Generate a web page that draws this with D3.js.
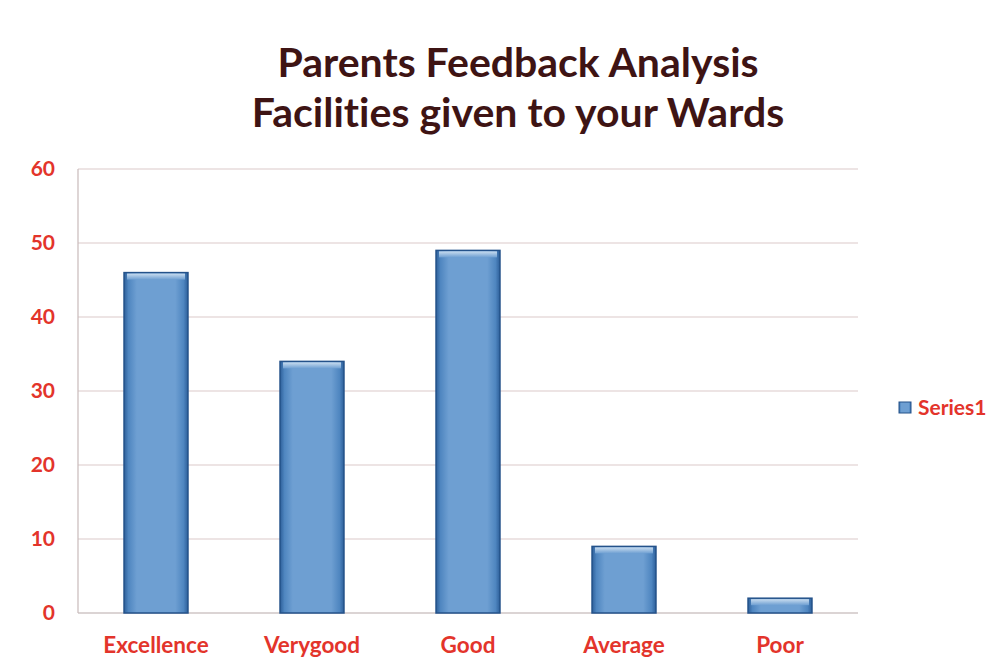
<!DOCTYPE html>
<html><head><meta charset="utf-8">
<script src="https://cdn.jsdelivr.net/npm/d3@7"></script>
<style>body{margin:0;background:#fff;}svg{display:block;}text{font-variant-ligatures:none;}</style>
</head><body>
<svg id="c" width="1003" height="670"></svg>
<script>
const categories = ["Excellence", "Verygood", "Good", "Average", "Poor"];
const series1 = [46, 34, 49, 9, 2];
const yTicks = [0, 10, 20, 30, 40, 50, 60];
const titleLines = ["Parents Feedback Analysis", "Facilities given to your Wards"];
const seriesName = "Series1";

const svg = d3.select("#c");
const m = {left: 78, right: 858, top: 169, bottom: 613};
const x = d3.scaleBand().domain(categories).range([m.left, m.right]).paddingInner(0.59).paddingOuter(0.295);
const y = d3.scaleLinear().domain([0, 60]).range([m.bottom, m.top]);
const font = "Lato, 'Open Sans', sans-serif";
const red = "#e3342b";

const defs = svg.append("defs");
const g1 = defs.append("linearGradient").attr("id", "barH").attr("x1", 0).attr("x2", 1).attr("y1", 0).attr("y2", 0);
[[0, "#2d5f9a"], [0.07, "#4f86c0"], [0.2, "#6e9fd2"], [0.8, "#6e9fd2"], [0.93, "#4f86c0"], [1, "#2d5f9a"]]
  .forEach(([o, c]) => g1.append("stop").attr("offset", o).attr("stop-color", c));
const g2 = defs.append("linearGradient").attr("id", "barTop").attr("x1", 0).attr("x2", 0).attr("y1", 0).attr("y2", 1);
[[0, "#c8dcef"], [1, "#6e9fd2"]].forEach(([o, c]) => g2.append("stop").attr("offset", o).attr("stop-color", c));

// gridlines
svg.append("g").selectAll("line").data(yTicks).join("line")
  .attr("x1", m.left).attr("x2", m.right)
  .attr("y1", d => y(d)).attr("y2", d => y(d))
  .attr("stroke", d => d === 0 ? "#b8aaaa" : "#dccaca").attr("stroke-width", 1.2);
// left axis line
svg.append("line").attr("x1", m.left).attr("x2", m.left).attr("y1", m.top).attr("y2", m.bottom)
  .attr("stroke", "#c8baba").attr("stroke-width", 1.2);

// y axis
const yAxis = d3.axisLeft(y).tickValues(yTicks).tickSize(0).tickPadding(23);
const ya = svg.append("g").attr("transform", `translate(${m.left},0)`).call(yAxis);
ya.select(".domain").remove();
ya.selectAll("text").attr("fill", red).attr("font-family", font)
  .attr("font-weight", "bold").attr("font-size", 21);

// x axis
const xAxis = d3.axisBottom(x).tickSize(0).tickPadding(24);
const xa = svg.append("g").attr("transform", `translate(0,${m.bottom})`).call(xAxis);
xa.select(".domain").remove();
xa.selectAll("text").attr("fill", red).attr("font-family", font)
  .attr("font-weight", "bold").attr("font-size", 22.5);

// bars
const bars = svg.append("g").selectAll("g").data(categories).join("g");
bars.append("rect")
  .attr("x", d => x(d)).attr("width", x.bandwidth())
  .attr("y", (d, i) => y(series1[i])).attr("height", (d, i) => y(0) - y(series1[i]))
  .attr("fill", "url(#barH)").attr("stroke", "#24528a").attr("stroke-width", 1.5);
bars.append("rect")
  .attr("x", d => x(d) + 3).attr("width", x.bandwidth() - 6)
  .attr("y", (d, i) => y(series1[i]) + 1).attr("height", 6)
  .attr("fill", "url(#barTop)");

// title
svg.append("g").selectAll("text").data(titleLines).join("text")
  .attr("x", 518).attr("y", (d, i) => 77 + i * 50)
  .attr("text-anchor", "middle").attr("fill", "#3e1414")
  .attr("font-family", font).attr("font-weight", "bold").attr("font-size", 41)
  .text(d => d);

// legend
const lg = svg.append("g").attr("transform", "translate(899,402)");
lg.append("rect").attr("width", 12).attr("height", 11).attr("fill", "url(#barH)").attr("stroke", "#24528a");
lg.append("text").attr("x", 19).attr("y", 13).attr("fill", red)
  .attr("font-family", font).attr("font-weight", "bold").attr("font-size", 21)
  .text(seriesName);
</script>
</body></html>
